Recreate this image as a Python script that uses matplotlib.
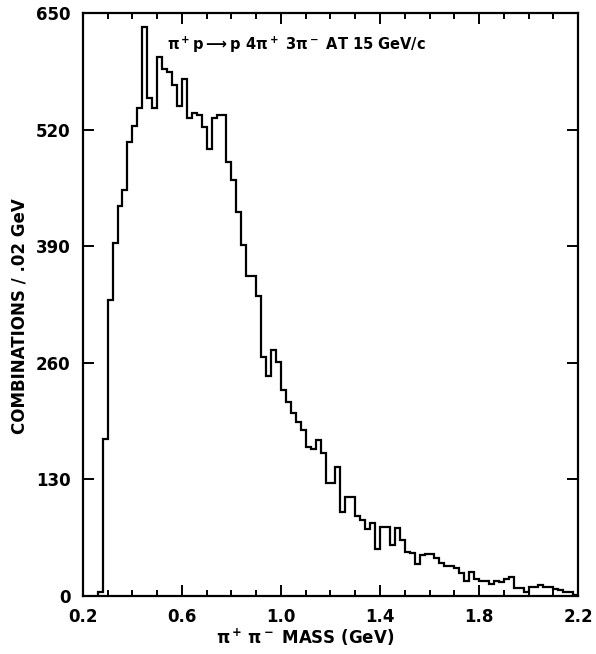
import numpy as np
import matplotlib
matplotlib.use("Agg")
import matplotlib.pyplot as plt
from matplotlib.ticker import MultipleLocator

plt.rcParams["font.family"] = ["DejaVu Sans"]
plt.rcParams["font.weight"] = "bold"
plt.rcParams["mathtext.fontset"] = "dejavusans"
plt.rcParams["mathtext.default"] = "bf"

# pi+ pi- mass histogram, 0.02 GeV bins starting at 0.26 GeV
bin_lo = 0.26
bin_width = 0.02
counts = [
    4, 175, 330, 393, 435, 453, 506, 524, 544, 634,
    555, 544, 601, 588, 584, 570, 546, 577, 533, 538,
    536, 523, 498, 533, 536, 536, 484, 464, 428, 391,
    357, 357, 334, 266, 245, 274, 261, 230, 216, 204,
    194, 185, 166, 164, 174, 159, 126, 126, 144, 94,
    110, 110, 89, 85, 75, 81, 52, 77, 77, 57,
    76, 62, 49, 48, 36, 46, 47, 47, 42, 37,
    33, 33, 31, 25, 16, 27, 19, 17, 17, 13,
    16, 15, 19, 21, 9, 9, 4, 10, 10, 12,
    10, 10, 8, 6, 4, 4, 1,
]
edges = bin_lo + bin_width * np.arange(len(counts) + 1)

x_ticks = [0.2, 0.6, 1.0, 1.4, 1.8, 2.2]
y_ticks = [0, 130, 260, 390, 520, 650]

fig = plt.figure(figsize=(5.96, 6.54), dpi=100)
ax = fig.add_axes([0.139, 0.089, 0.831, 0.891])

ax.stairs(counts, edges, baseline=0, color="black", linewidth=1.6)

ax.set_xlim(0.2, 2.2)
ax.set_ylim(0, 650)
ax.set_xticks(x_ticks)
ax.set_xticklabels([f"{t:.1f}" for t in x_ticks])
ax.set_yticks(y_ticks)
ax.xaxis.set_minor_locator(MultipleLocator(0.1))

ax.tick_params(which="both", direction="in", top=True, right=True,
               labelsize=12, width=1.4)
ax.tick_params(which="major", length=8)
ax.tick_params(axis="x", which="major", pad=9)
ax.tick_params(axis="y", which="major", pad=9)
ax.tick_params(which="minor", length=4)
for s in ax.spines.values():
    s.set_linewidth(1.6)

ax.set_xlabel(r"$\pi^+\,\pi^-$ MASS (GeV)", fontsize=12, fontweight="bold")
ax.xaxis.set_label_coords(0.448, -0.053)
ax.set_ylabel("COMBINATIONS / .02 GeV", fontsize=12, fontweight="bold")
ax.yaxis.set_label_coords(-0.11, 0.48)

ax.text(0.17, 0.945,
        r"$\pi^+$p$\longrightarrow$p 4$\pi^+$ 3$\pi^-$ AT 15 GeV/c",
        transform=ax.transAxes, fontsize=10.5, fontweight="bold",
        ha="left", va="center")

fig.savefig("out.png", dpi=100, facecolor="white")
